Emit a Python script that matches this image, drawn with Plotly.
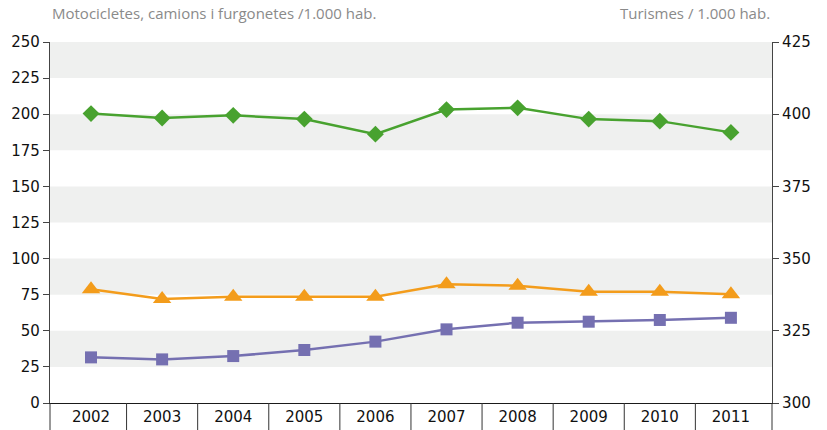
import plotly.graph_objects as go

years = ["2002", "2003", "2004", "2005", "2006", "2007", "2008", "2009", "2010", "2011"]
turismes = [400.2, 398.7, 399.6, 398.3, 393.1, 401.6, 402.2, 398.3, 397.6, 393.7]
motos = [78.8, 72.0, 73.6, 73.6, 73.6, 82.2, 81.2, 77.1, 77.1, 75.3]
camions = [31.6, 30.2, 32.5, 36.7, 42.5, 51.0, 55.6, 56.3, 57.5, 59.0]

left_ticks = list(range(0, 251, 25))
right_ticks = list(range(300, 426, 25))
bands = [(25, 50), (75, 100), (125, 150), (175, 200), (225, 250)]

GREEN = "#48a22f"
ORANGE = "#f39c1b"
PURPLE = "#7570b1"
TICKFONT = dict(family="DejaVu Sans", size=15, color="#111111")

fig = go.Figure()
fig.add_trace(go.Scatter(x=years, y=camions, mode="lines+markers", yaxis="y",
                         line=dict(color=PURPLE, width=2.5),
                         marker=dict(symbol="square", size=12, color=PURPLE),
                         showlegend=False))
fig.add_trace(go.Scatter(x=years, y=motos, mode="lines+markers", yaxis="y",
                         line=dict(color=ORANGE, width=2.5),
                         marker=dict(symbol="triangle-up", size=16, color=ORANGE),
                         showlegend=False))
fig.add_trace(go.Scatter(x=years, y=turismes, mode="lines+markers", yaxis="y2",
                         line=dict(color=GREEN, width=2.5),
                         marker=dict(symbol="diamond", size=13, color=GREEN),
                         showlegend=False))

shapes = []
for lo, hi in bands:
    shapes.append(dict(type="rect", xref="paper", yref="y", x0=0, x1=1, y0=lo, y1=hi,
                       fillcolor="#eff0ef", line=dict(width=0), layer="below"))
for i in range(len(years) - 1):
    shapes.append(dict(type="line", xref="x", yref="paper", x0=i + 0.5, x1=i + 0.5,
                       y0=0, y1=-0.08, line=dict(color="#333333", width=1)))
for xp in (0, 1):
    shapes.append(dict(type="line", xref="paper", yref="paper", x0=xp, x1=xp,
                       y0=0, y1=-0.08, line=dict(color="#333333", width=1)))

fig.update_layout(
    width=827, height=430,
    margin=dict(l=50, r=55, t=42, b=27, autoexpand=False),
    paper_bgcolor="white", plot_bgcolor="white",
    shapes=shapes,
    xaxis=dict(type="category", range=[-0.577, 9.578], showgrid=False,
               showline=True, linecolor="#1a1a1a", linewidth=1.2,
               ticks="", tickfont=TICKFONT, fixedrange=True, automargin=False),
    yaxis=dict(range=[0, 250], tickvals=left_ticks, showgrid=False, zeroline=False,
               showline=True, linecolor="#444444", linewidth=1.2,
               ticks="outside", ticklen=6, tickcolor="#444444",
               tickfont=TICKFONT, automargin=False),
    yaxis2=dict(range=[300, 425], tickvals=right_ticks, overlaying="y", side="right",
                showgrid=False, zeroline=False,
                showline=True, linecolor="#444444", linewidth=1.2,
                ticks="outside", ticklen=6, tickcolor="#444444",
                tickfont=TICKFONT, automargin=False),
    annotations=[
        dict(text="Motocicletes, camions i furgonetes /1.000 hab.", xref="paper", yref="paper",
             x=0, y=1.08, xanchor="left", yanchor="middle", showarrow=False,
             font=dict(family="Open Sans", size=15, color="#8a8a8a")),
        dict(text="Turismes / 1.000 hab.", xref="paper", yref="paper",
             x=1, y=1.08, xanchor="right", yanchor="middle", showarrow=False,
             font=dict(family="Open Sans", size=15, color="#8a8a8a")),
    ],
)

fig.write_html("out.html", config={"displayModeBar": False},
               post_script="document.body.style.margin='0';document.body.style.padding='0';")
